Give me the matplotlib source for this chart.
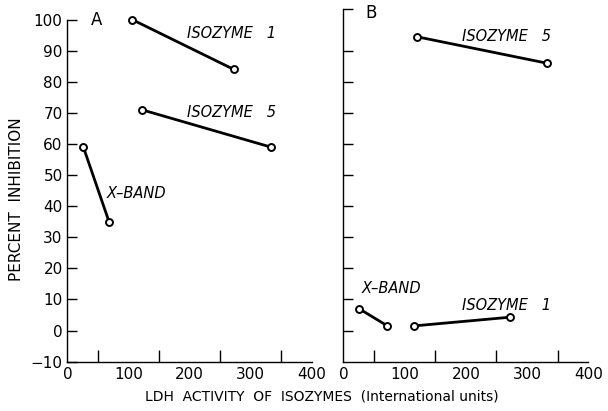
import matplotlib
matplotlib.use("Agg")
import matplotlib.pyplot as plt

# panel A
a_iso1_x = [106, 272]
a_iso1_y = [100, 84]
a_iso5_x = [122, 333]
a_iso5_y = [71, 59]
a_xband_x = [26, 68]
a_xband_y = [59, 35]

# panel B
b_iso5_x = [120, 332]
b_iso5_y = [94.5, 86]
b_xband_x = [26, 72]
b_xband_y = [7, 1.5]
b_iso1_x = [115, 272]
b_iso1_y = [1.5, 4.3]

x_ticks = [0, 100, 200, 300, 400]
y_ticks = [100, 90, 80, 70, 60, 50, 40, 30, 20, 10, 0, -10]

plt.rcParams['font.family'] = ['DejaVu Sans']

fig = plt.figure(figsize=(6.08, 4.11), dpi=100)
axA = fig.add_axes([0.111, 0.12, 0.402, 0.8625])
axB = fig.add_axes([0.5647, 0.12, 0.403, 0.8625])

line_kw = dict(color='black', lw=2.0, marker='o', ms=5, mfc='white',
               mec='black', mew=1.4)
txt_kw = dict(fontsize=10.5, style='italic', color='black')

def style(ax, top):
    ax.set_xlim(0, 400)
    ax.set_ylim(-10, 104)
    for s in ['top', 'right']:
        ax.spines[s].set_visible(False)
    ax.spines['left'].set_bounds(-10, top)
    ax.spines['left'].set_linewidth(1.0)
    ax.spines['bottom'].set_linewidth(1.0)
    ax.set_xticks(x_ticks)
    ax.set_xticks(range(50, 401, 50), minor=True)
    ax.tick_params(axis='x', which='major', direction='in', length=0,
                   labelsize=11, pad=4)
    ax.tick_params(axis='x', which='minor', direction='in', length=9, width=1.0)
    ax.tick_params(axis='y', which='both', direction='in', length=7, width=1.0,
                   labelsize=11)

style(axA, 100)
axA.set_yticks(y_ticks)
axA.set_yticklabels([str(v).replace('-', '\u2212') for v in y_ticks])

style(axB, 103.5)
axB.set_yticks([v for v in y_ticks if v not in (100, -10)] + [103.5])
axB.set_yticklabels([])

axA.plot(a_iso1_x, a_iso1_y, **line_kw)
axA.plot(a_iso5_x, a_iso5_y, **line_kw)
axA.plot(a_xband_x, a_xband_y, **line_kw)
axA.text(195, 95.4, 'ISOZYME   1', va='center', **txt_kw)
axA.text(196, 70, 'ISOZYME   5', va='center', **txt_kw)
axA.text(64, 44, 'X\u2013BAND', va='center', **txt_kw)
axA.text(38, 100, 'A', fontsize=12, va='center')

axB.plot(b_iso5_x, b_iso5_y, **line_kw)
axB.plot(b_xband_x, b_xband_y, **line_kw)
axB.plot(b_iso1_x, b_iso1_y, **line_kw)
axB.text(194, 94.7, 'ISOZYME   5', va='center', **txt_kw)
axB.text(30, 13.4, 'X\u2013BAND', va='center', **txt_kw)
axB.text(194, 8, 'ISOZYME   1', va='center', **txt_kw)
axB.text(36, 102, 'B', fontsize=12, va='center')

fig.text(0.53, 0.036, 'LDH  ACTIVITY  OF  ISOZYMES  (International units)',
         ha='center', va='center', fontsize=10)
fig.text(0.027, 0.515, 'PERCENT  INHIBITION', rotation=90,
         ha='center', va='center', fontsize=11)

fig.savefig('out.png', dpi=100)
